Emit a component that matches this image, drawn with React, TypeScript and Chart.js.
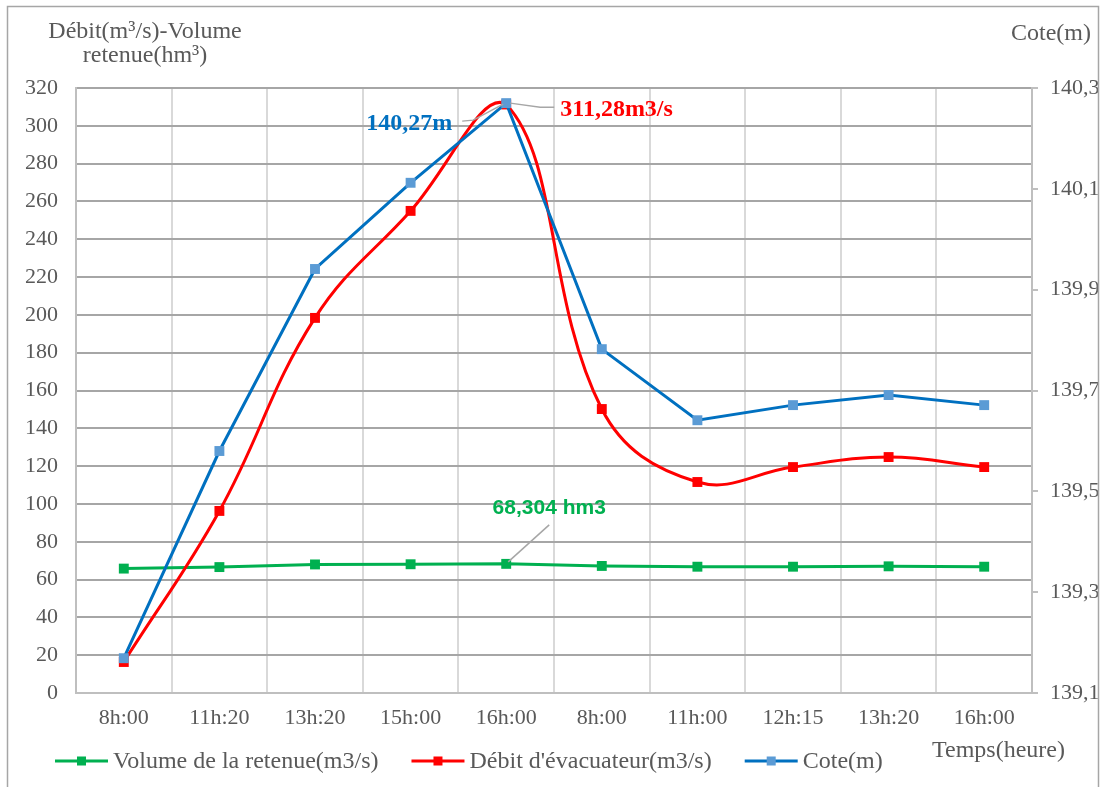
import React, { useEffect, useRef } from 'react';
import { Chart, registerables } from 'chart.js';

Chart.register(...registerables);

const categories = ['8h:00', '11h:20', '13h:20', '15h:00', '16h:00', '8h:00', '11h:00', '12h:15', '13h:20', '16h:00'];
const volumeRetenue = [65.8, 66.6, 68.0, 68.1, 68.304, 67.2, 66.8, 66.8, 67.0, 66.8];
const debitEvacuateur = [16.4, 96.3, 198.4, 255.0, 311.28, 150.2, 111.6, 119.5, 124.8, 119.5];
const cote = [139.169, 139.58, 139.941, 140.112, 140.27, 139.782, 139.641, 139.671, 139.691, 139.671];
const leftTicks = [0, 20, 40, 60, 80, 100, 120, 140, 160, 180, 200, 220, 240, 260, 280, 300, 320];
const rightTicks = [139.1, 139.3, 139.5, 139.7, 139.9, 140.1, 140.3];

const seriesNames = ['Volume de la retenue(m3/s)', "Débit d'évacuateur(m3/s)", 'Cote(m)'];
const leftTitle = ['Débit(m³/s)-Volume', 'retenue(hm³)'];
const rightTitle = 'Cote(m)';
const xTitle = 'Temps(heure)';
const peakIndex = 4;
const labelCote = '140,27m';
const labelDebit = '311,28m3/s';
const labelVolume = '68,304 hm3';

const SERIF = '"Liberation Serif", "Times New Roman", serif';
const TXT = '#595959';

const decor = {
  id: 'decor',
  beforeDraw(chart: any) {
    const ctx = chart.ctx;
    ctx.save();
    ctx.fillStyle = '#ffffff';
    ctx.fillRect(0, 0, chart.width, chart.height);
    ctx.restore();
  },
  afterDatasetsDraw(chart: any) {
    const ctx = chart.ctx;
    const xs = chart.scales.x;
    const yl = chart.scales.y;
    const yr = chart.scales.y1;
    ctx.save();
    ctx.strokeStyle = '#a6a6a6';
    ctx.lineWidth = 1.5;
    const px = xs.getPixelForValue(peakIndex);
    const pyC = yr.getPixelForValue(cote[peakIndex]);
    const pyV = yl.getPixelForValue(volumeRetenue[peakIndex]);
    ctx.beginPath();
    ctx.moveTo(px - 44, pyC + 18);
    ctx.lineTo(px - 33, pyC + 17);
    ctx.lineTo(px - 3, pyC + 1);
    ctx.stroke();
    ctx.beginPath();
    ctx.moveTo(px + 4, pyC);
    ctx.lineTo(px + 34, pyC + 4);
    ctx.lineTo(px + 48, pyC + 4);
    ctx.stroke();
    ctx.beginPath();
    ctx.moveTo(px + 43, pyV - 39);
    ctx.lineTo(px + 2, pyV - 2);
    ctx.stroke();
    ctx.font = 'bold 24px ' + SERIF;
    ctx.textBaseline = 'alphabetic';
    ctx.fillStyle = '#0070c0';
    ctx.textAlign = 'right';
    ctx.fillText(labelCote, px - 54, pyC + 27);
    ctx.fillStyle = '#ff0000';
    ctx.textAlign = 'left';
    ctx.fillText(labelDebit, px + 54, pyC + 13);
    ctx.fillStyle = '#00b050';
    ctx.textAlign = 'center';
    ctx.font = 'bold 21px "Liberation Sans", Arial, sans-serif';
    ctx.fillText(labelVolume, px + 43, pyV - 50);
    ctx.restore();
  },
  afterDraw(chart: any) {
    const ctx = chart.ctx;
    ctx.save();
    ctx.strokeStyle = '#a6a6a6';
    ctx.lineWidth = 1.5;
    ctx.strokeRect(7.5, 6.5, 1091, 800);
    ctx.fillStyle = TXT;
    ctx.font = '24px ' + SERIF;
    ctx.textBaseline = 'alphabetic';
    ctx.textAlign = 'center';
    ctx.fillText(leftTitle[0], 145, 38);
    ctx.fillText(leftTitle[1], 145, 62);
    ctx.textAlign = 'right';
    ctx.fillText(rightTitle, 1091, 40);
    ctx.textAlign = 'left';
    ctx.fillText(xTitle, 932, 757);
    const items = [
      { name: seriesNames[0], line: '#00b050', mark: '#00b050' },
      { name: seriesNames[1], line: '#ff0000', mark: '#ff0000' },
      { name: seriesNames[2], line: '#0070c0', mark: '#5b9bd5' },
    ];
    let x = 55;
    const ly = 761;
    for (const it of items) {
      ctx.strokeStyle = it.line;
      ctx.lineWidth = 3;
      ctx.beginPath();
      ctx.moveTo(x, ly);
      ctx.lineTo(x + 53, ly);
      ctx.stroke();
      ctx.fillStyle = it.mark;
      ctx.fillRect(x + 26.5 - 4.5, ly - 4.5, 9, 9);
      ctx.fillStyle = TXT;
      ctx.textAlign = 'left';
      ctx.fillText(it.name, x + 58, 768);
      x = x + 58 + ctx.measureText(it.name).width + 33;
    }
    ctx.restore();
  },
};

export default function App() {
  const ref = useRef<HTMLCanvasElement>(null);
  useEffect(() => {
    if (!ref.current) return;
    const chart = new Chart(ref.current, {
      type: 'line',
      data: {
        labels: categories,
        datasets: [
          {
            label: seriesNames[0],
            data: volumeRetenue,
            yAxisID: 'y',
            borderColor: '#00b050',
            backgroundColor: '#00b050',
            borderWidth: 3,
            pointStyle: 'rect',
            pointRadius: 7,
            pointBorderWidth: 0,
            tension: 0,
            order: 3,
          },
          {
            label: seriesNames[1],
            data: debitEvacuateur,
            yAxisID: 'y',
            borderColor: '#ff0000',
            backgroundColor: '#ff0000',
            borderWidth: 3,
            pointStyle: 'rect',
            pointRadius: 7,
            pointBorderWidth: 0,
            tension: 0.4,
            order: 2,
          },
          {
            label: seriesNames[2],
            data: cote,
            yAxisID: 'y1',
            borderColor: '#0070c0',
            backgroundColor: '#5b9bd5',
            borderWidth: 3,
            pointStyle: 'rect',
            pointRadius: 7,
            pointBorderWidth: 0,
            tension: 0,
            order: 1,
          },
        ],
      },
      options: {
        responsive: false,
        animation: false,
        layout: { padding: { top: 88, left: 0, right: 0, bottom: 0 } },
        plugins: { legend: { display: false }, tooltip: { enabled: false }, title: { display: false } },
        scales: {
          x: {
            type: 'category',
            offset: true,
            grid: { offset: true, color: '#d9d9d9', lineWidth: 2, drawTicks: false },
            border: { color: '#bfbfbf', width: 2 },
            ticks: { color: TXT, font: { family: SERIF, size: 22 }, padding: 12, maxRotation: 0, autoSkip: false },
            afterFit: (s: any) => { s.height = 94; },
          },
          y: {
            type: 'linear',
            position: 'left',
            min: 0,
            max: 320,
            afterBuildTicks: (s: any) => { s.ticks = leftTicks.map((v) => ({ value: v })); },
            grid: { color: '#a6a6a6', lineWidth: 2, drawTicks: false },
            border: { color: '#bfbfbf', width: 2 },
            ticks: { color: TXT, font: { family: SERIF, size: 22 }, padding: 18 },
            afterFit: (s: any) => { s.width = 76; },
          },
          y1: {
            type: 'linear',
            position: 'right',
            min: 139.1,
            max: 140.3,
            afterBuildTicks: (s: any) => { s.ticks = rightTicks.map((v) => ({ value: v })); },
            grid: { drawOnChartArea: false, color: '#bfbfbf', lineWidth: 2, drawTicks: true, tickLength: 6 },
            border: { color: '#bfbfbf', width: 2 },
            ticks: {
              color: TXT,
              font: { family: SERIF, size: 22 },
              padding: 12,
              callback: (v: any) => Number(v).toFixed(1).replace('.', ','),
            },
            afterFit: (s: any) => { s.width = 69; },
          },
        },
      },
      plugins: [decor],
    } as any);
    return () => chart.destroy();
  }, []);
  return (
    <div style={{ position: 'absolute', left: 0, top: 0, width: 1101, height: 787 }}>
      <canvas ref={ref} width={1101} height={787} />
    </div>
  );
}
